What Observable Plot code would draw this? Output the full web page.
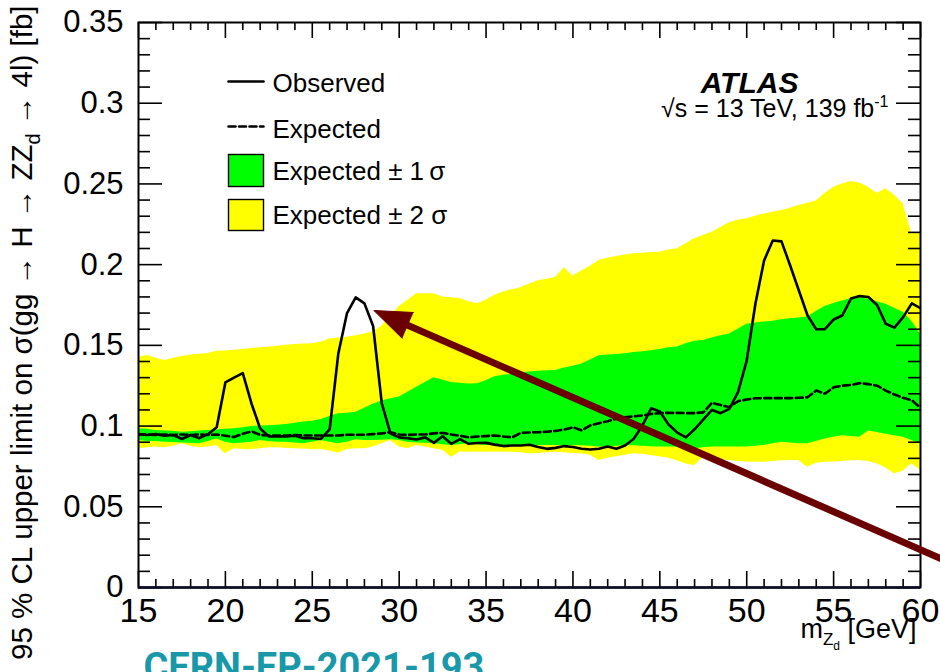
<!DOCTYPE html>
<html>
<head>
<meta charset="utf-8">
<script src="https://cdn.jsdelivr.net/npm/d3@7"></script>
<script src="https://cdn.jsdelivr.net/npm/@observablehq/plot@0.6"></script>
<style>
  html, body { margin: 0; padding: 0; background: #fff; }
  #chart { width: 940px; height: 672px; overflow: hidden; }
</style>
</head>
<body>
<div id="chart"></div>
<script>
// Dark-photon mass grid (GeV)
const mass = [
  15, 15.5, 16, 16.5, 17, 17.5, 18, 18.5, 19, 19.5,
  20, 20.5, 21, 21.5, 22, 22.5, 23, 23.5, 24, 24.5,
  25, 25.5, 26, 26.5, 27, 27.5, 28, 28.5, 29, 29.5,
  30, 30.5, 31, 31.5, 32, 32.5, 33, 33.5, 34, 34.5,
  35, 35.5, 36, 36.5, 37, 37.5, 38, 38.5, 39, 39.5,
  40, 40.5, 41, 41.5, 42, 42.5, 43, 43.5, 44, 44.5,
  45, 45.5, 46, 46.5, 47, 47.5, 48, 48.5, 49, 49.5,
  50, 50.5, 51, 51.5, 52, 52.5, 53, 53.5, 54, 54.5,
  55, 55.5, 56, 56.5, 57, 57.5, 58, 58.5, 59, 59.5,
  60
];

// Observed 95% CL upper limit (fb)
const observed = [
  0.095, 0.0945, 0.095, 0.094, 0.0945, 0.092, 0.0945, 0.0925, 0.095, 0.0993,
  0.127, 0.130, 0.1328, 0.114, 0.0985, 0.0935, 0.0935, 0.0935, 0.094, 0.0925,
  0.0925, 0.092, 0.098, 0.145, 0.170, 0.1797, 0.176, 0.162, 0.114, 0.0954,
  0.093, 0.0925, 0.0917, 0.093, 0.0896, 0.0937, 0.089, 0.0919, 0.089, 0.0895,
  0.0896, 0.0885, 0.0876, 0.088, 0.088, 0.0884, 0.087, 0.0859, 0.0865, 0.0876,
  0.087, 0.086, 0.0855, 0.086, 0.0874, 0.0859, 0.088, 0.0921, 0.1004, 0.111,
  0.109, 0.101, 0.096, 0.093, 0.098, 0.104, 0.110, 0.108, 0.1107, 0.121,
  0.1406, 0.1758, 0.2026, 0.215, 0.2144, 0.1995, 0.184, 0.1685, 0.160, 0.160,
  0.166, 0.1685, 0.179, 0.1805, 0.180, 0.175, 0.1634, 0.161, 0.1675, 0.176,
  0.173
];

// Median expected limit (fb)
const expected = [
  0.0948, 0.0948, 0.0945, 0.0948, 0.0945, 0.0948, 0.0945, 0.0948, 0.0945, 0.0948,
  0.094, 0.0932, 0.0952, 0.0967, 0.0945, 0.0942, 0.0942, 0.0942, 0.0945, 0.0942,
  0.0942, 0.0942, 0.0942, 0.0942, 0.0946, 0.0946, 0.0946, 0.095, 0.0955, 0.0962,
  0.0948, 0.0945, 0.0948, 0.0948, 0.0955, 0.0958, 0.0948, 0.094, 0.093, 0.0935,
  0.0938, 0.0942, 0.0935, 0.093, 0.0958, 0.096, 0.0962, 0.0965, 0.097, 0.0978,
  0.0993, 0.0973, 0.1004, 0.1018, 0.103, 0.1045, 0.1055, 0.106, 0.1066, 0.1075,
  0.108, 0.1082, 0.1082, 0.108, 0.108, 0.1085, 0.1144, 0.113, 0.1117, 0.1154,
  0.1165, 0.1172, 0.1173, 0.1173, 0.1173, 0.1173, 0.1175, 0.1178, 0.122, 0.120,
  0.124, 0.125, 0.1255, 0.1266, 0.126, 0.125, 0.122, 0.1195, 0.1175, 0.116,
  0.1113
];

// Expected +1 sigma / -1 sigma
const sigma1Up = [
  0.0983, 0.098, 0.0973, 0.097, 0.0968, 0.0962, 0.0965, 0.097, 0.0973, 0.0975,
  0.098, 0.0983, 0.099, 0.0998, 0.100, 0.1002, 0.1005, 0.101, 0.1018, 0.1025,
  0.103, 0.104, 0.106, 0.1076, 0.108, 0.1086, 0.111, 0.1135, 0.1155, 0.117,
  0.118, 0.121, 0.124, 0.127, 0.130, 0.1285, 0.127, 0.1265, 0.126, 0.1262,
  0.128, 0.1305, 0.1315, 0.132, 0.133, 0.1335, 0.134, 0.1342, 0.1345, 0.136,
  0.137, 0.1385, 0.141, 0.1435, 0.144, 0.1444, 0.1448, 0.1455, 0.146, 0.1467,
  0.1475, 0.1485, 0.149, 0.151, 0.1525, 0.153, 0.1545, 0.156, 0.157, 0.160,
  0.163, 0.1638, 0.1644, 0.165, 0.1658, 0.1665, 0.167, 0.1675, 0.171, 0.174,
  0.176, 0.1775, 0.179, 0.1795, 0.1785, 0.177, 0.1755, 0.173, 0.1705, 0.165,
  0.157
];
const sigma1Down = [
  0.091, 0.0905, 0.0905, 0.090, 0.0898, 0.0895, 0.0893, 0.089, 0.0905, 0.092,
  0.090, 0.089, 0.0895, 0.090, 0.091, 0.0905, 0.090, 0.090, 0.0895, 0.089,
  0.090, 0.091, 0.090, 0.089, 0.090, 0.0915, 0.091, 0.091, 0.0912, 0.0915,
  0.091, 0.090, 0.0895, 0.0894, 0.089, 0.0885, 0.088, 0.0885, 0.089, 0.0885,
  0.088, 0.088, 0.088, 0.088, 0.088, 0.088, 0.088, 0.088, 0.088, 0.088,
  0.088, 0.0878, 0.0875, 0.087, 0.0872, 0.0875, 0.088, 0.0878, 0.0875, 0.0872,
  0.087, 0.087, 0.087, 0.0865, 0.086, 0.0865, 0.087, 0.087, 0.087, 0.087,
  0.087, 0.0875, 0.088, 0.089, 0.090, 0.0895, 0.089, 0.089, 0.0905, 0.092,
  0.093, 0.094, 0.0935, 0.093, 0.097, 0.096, 0.095, 0.094, 0.093, 0.091,
  0.089
];

// Expected +2 sigma / -2 sigma
const sigma2Up = [
  0.1427, 0.1437, 0.142, 0.1406, 0.142, 0.1431, 0.144, 0.1445, 0.145, 0.1464,
  0.1465, 0.147, 0.1475, 0.148, 0.1485, 0.1489, 0.1495, 0.150, 0.1506, 0.1508,
  0.151, 0.152, 0.154, 0.1545, 0.155, 0.156, 0.157, 0.1585, 0.162, 0.168,
  0.174, 0.178, 0.182, 0.182, 0.182, 0.180, 0.1795, 0.179, 0.177, 0.1758,
  0.178, 0.181, 0.183, 0.1845, 0.1857, 0.188, 0.190, 0.191, 0.192, 0.198,
  0.193, 0.196, 0.199, 0.2026, 0.204, 0.205, 0.206, 0.2067, 0.207, 0.2075,
  0.2077, 0.209, 0.2098, 0.213, 0.216, 0.218, 0.220, 0.223, 0.226, 0.2275,
  0.2284, 0.230, 0.2314, 0.2325, 0.2336, 0.235, 0.2367, 0.238, 0.2395, 0.244,
  0.248, 0.250, 0.2515, 0.2505, 0.248, 0.244, 0.247, 0.243, 0.2377, 0.219,
  0.220
];
const sigma2Down = [
  0.0859, 0.0865, 0.087, 0.0866, 0.0875, 0.089, 0.0875, 0.0866, 0.087, 0.088,
  0.0828, 0.086, 0.0855, 0.0853, 0.086, 0.0866, 0.0866, 0.0862, 0.086, 0.0858,
  0.0853, 0.0855, 0.0845, 0.0832, 0.0855, 0.086, 0.086, 0.087, 0.089, 0.091,
  0.087, 0.086, 0.088, 0.087, 0.086, 0.085, 0.0807, 0.084, 0.0838, 0.084,
  0.0838, 0.084, 0.0838, 0.0838, 0.0835, 0.0828, 0.083, 0.0835, 0.0838, 0.0835,
  0.083, 0.0828, 0.082, 0.0787, 0.080, 0.081, 0.082, 0.0828, 0.0825, 0.0818,
  0.081, 0.080, 0.0785, 0.0765, 0.0756, 0.0807, 0.080, 0.079, 0.0787, 0.078,
  0.0778, 0.0776, 0.0776, 0.078, 0.0785, 0.0787, 0.0787, 0.0745, 0.077, 0.0776,
  0.0778, 0.078, 0.0785, 0.0787, 0.078, 0.0766, 0.074, 0.0704, 0.072, 0.0766,
  0.0725
];

// Axis ticks and labels
const xMajorTicks = [15, 20, 25, 30, 35, 40, 45, 50, 55, 60];
const xTickLabels = ["15", "20", "25", "30", "35", "40", "45", "50", "55", "60"];
const yMajorTicks = [0, 0.05, 0.1, 0.15, 0.2, 0.25, 0.3, 0.35];
const yTickLabels = ["0", "0.05", "0.1", "0.15", "0.2", "0.25", "0.3", "0.35"];
const xMinorTicks = d3.range(15, 61).filter(v => v % 5 !== 0);
const yMinorTicks = d3.range(0, 36).filter(v => v % 5 !== 0).map(v => v / 100);

// Legend entries
const legendLabels = ["Observed", "Expected", "Expected \u00b1 1\u2009\u03c3", "Expected \u00b1 2 \u03c3"];

// Annotation arrow (tail, tip) in axis units
const arrowTail = {m: 62, sigma: 0.014};
const arrowTip = {m: 28.55, sigma: 0.1716};

const rows = mass.map((m, i) => ({
  m, obs: observed[i], exp: expected[i],
  u1: sigma1Up[i], d1: sigma1Down[i], u2: sigma2Up[i], d2: sigma2Down[i]
}));

const W = 940, H = 672;
const M = {top: 22, right: 20, bottom: 85, left: 138};
const innerW = W - M.left - M.right;
const innerH = H - M.top - M.bottom;
const FONT = "'Liberation Sans', Arial, Helvetica, sans-serif";
const ARROW = "#6a0000";

// straight stroke used for legend line samples
const hLine = {draw(ctx, l) { ctx.moveTo(0, 0); ctx.lineTo(0, -l); }};

// one legend label per row, baselines measured from the frame top
const legendRows = [69, 115, 157, 201];
const legendText = legendLabels.map((label, i) =>
  Plot.text([label], {frameAnchor: "top-left", dx: 134, dy: legendRows[i],
    textAnchor: "start", lineAnchor: "bottom", fontSize: 26, fill: "#000"}));

// screen angle of the arrow, for orienting its head
function arrowAngle(x, y) {
  const dx = x(arrowTip.m) - x(arrowTail.m);
  const dy = y(arrowTip.sigma) - y(arrowTail.sigma);
  return Math.atan2(dx, -dy) * 180 / Math.PI;
}
const xs = d3.scaleLinear([15, 60], [M.left, W - M.right]);
const ys = d3.scaleLinear([0, 0.35], [H - M.bottom, M.top]);

const chart = Plot.plot({
  width: W, height: H,
  marginTop: M.top, marginRight: M.right, marginBottom: M.bottom, marginLeft: M.left,
  style: {fontFamily: FONT, background: "#fff", color: "#000"},
  x: {domain: [15, 60], axis: null},
  y: {domain: [0, 0.35], axis: null},
  marks: [
    // bands and curves
    Plot.areaY(rows, {x: "m", y1: "d2", y2: "u2", fill: "#ffff00", clip: true}),
    Plot.areaY(rows, {x: "m", y1: "d1", y2: "u1", fill: "#00ff00", clip: true}),
    Plot.line(rows, {x: "m", y: "exp", stroke: "#000", strokeWidth: 2.6, strokeDasharray: "7,3.5", clip: true}),
    Plot.line(rows, {x: "m", y: "obs", stroke: "#000", strokeWidth: 2.6, clip: true}),

    // inward ticks on all four sides
    Plot.tickX(xMinorTicks, {x: d => d, insetTop: innerH - 8, stroke: "#000", strokeWidth: 1.6}),
    Plot.tickX(xMinorTicks, {x: d => d, insetBottom: innerH - 8, stroke: "#000", strokeWidth: 1.6}),
    Plot.tickX(xMajorTicks, {x: d => d, insetTop: innerH - 16, stroke: "#000", strokeWidth: 1.6}),
    Plot.tickX(xMajorTicks, {x: d => d, insetBottom: innerH - 16, stroke: "#000", strokeWidth: 1.6}),
    Plot.tickY(yMinorTicks, {y: d => d, insetRight: innerW - 12, stroke: "#000", strokeWidth: 1.6}),
    Plot.tickY(yMinorTicks, {y: d => d, insetLeft: innerW - 12, stroke: "#000", strokeWidth: 1.6}),
    Plot.tickY(yMajorTicks, {y: d => d, insetRight: innerW - 24, stroke: "#000", strokeWidth: 1.6}),
    Plot.tickY(yMajorTicks, {y: d => d, insetLeft: innerW - 24, stroke: "#000", strokeWidth: 1.6}),
    Plot.frame({stroke: "#000", strokeWidth: 2}),
    Plot.ruleY([0], {stroke: "#0c0c2a", strokeWidth: 2.6}),

    // tick labels
    Plot.axisX({ticks: xMajorTicks, tickSize: 0, tickPadding: 10, fontSize: 34, label: null,
      tickFormat: d => xTickLabels[xMajorTicks.indexOf(d)]}),
    Plot.axisY({ticks: yMajorTicks, tickSize: 0, tickPadding: 15, fontSize: 31, label: null,
      tickFormat: d => yTickLabels[yMajorTicks.indexOf(d)]}),

    // axis titles
    Plot.text(["95 % CL upper limit on \u03c3(gg \u2192 H \u2192 ZZ_d \u2192 4l) [fb]"], {
      frameAnchor: "top-left", dx: -116, dy: -17, rotate: -90,
      textAnchor: "end", lineAnchor: "middle", fontSize: 29.5, fill: "#000"}),
    Plot.text(["m_Z_d [GeV]"], {
      frameAnchor: "bottom-right", dx: -4, dy: 50,
      textAnchor: "end", lineAnchor: "bottom", fontSize: 27, fill: "#000"}),

    // legend
    Plot.vector([0], {frameAnchor: "top-left", dx: 90, dy: 59, rotate: 90, anchor: "start",
      length: 35, shape: hLine, stroke: "#000", strokeWidth: 2.6}),
    Plot.vector([0], {frameAnchor: "top-left", dx: 90, dy: 104, rotate: 90, anchor: "start",
      length: 35, shape: hLine, stroke: "#000", strokeWidth: 2.6, strokeDasharray: "7,3.5"}),
    Plot.frame({fill: "#00ff00", stroke: "#000", strokeWidth: 1.4,
      insetLeft: 90, insetRight: innerW - 125, insetTop: 132, insetBottom: innerH - 164}),
    Plot.frame({fill: "#ffff00", stroke: "#000", strokeWidth: 1.4,
      insetLeft: 90, insetRight: innerW - 125, insetTop: 177, insetBottom: innerH - 208}),
    ...legendText,

    // experiment labels
    Plot.text(["ATLAS"], {frameAnchor: "top-left", dx: 611, dy: 70, textAnchor: "middle",
      lineAnchor: "bottom", fontSize: 30, fontWeight: "bold", fontStyle: "italic", fill: "#000"}),
    Plot.text(["\u221as = 13 TeV, 139 fb^-1"], {frameAnchor: "top-left", dx: 750, dy: 94,
      textAnchor: "end", lineAnchor: "bottom", fontSize: 25, fill: "#000"}),

    // report number
    Plot.text(["CERN-EP-2021-193"], {frameAnchor: "bottom-left", dx: 5, dy: 92,
      textAnchor: "start", lineAnchor: "bottom", fontSize: 38, fontWeight: "bold",
      fontFamily: "Roboto, 'Open Sans', sans-serif", fill: "#1898a8"}),

    // annotation arrow: shaft plus a filled head
    Plot.arrow([{tail: arrowTail, tip: arrowTip}], {
      x1: d => d.tail.m, y1: d => d.tail.sigma, x2: d => d.tip.m, y2: d => d.tip.sigma,
      stroke: ARROW, strokeWidth: 7, headLength: 0, insetEnd: 24}),
    Plot.vector([arrowTip], {x: "m", y: "sigma", anchor: "end", shape: "spike",
      length: 37, r: 14, rotate: arrowAngle(xs, ys), fill: ARROW, stroke: ARROW, strokeWidth: 1})
  ]
});

document.getElementById("chart").appendChild(chart);

// Sub/superscripts for labels written with "_" / "^" markers
function rich(textEl, parts) {
  const sel = d3.select(textEl);
  sel.text(null);
  let shift = 0;
  for (const [s, off, size] of parts) {
    const t = sel.append("tspan").text(s);
    const dy = off - shift;
    if (dy) t.attr("dy", dy);
    if (size) t.attr("font-size", size);
    shift = off;
  }
}
d3.select(chart).selectAll("text").each(function () {
  const s = this.textContent;
  if (s.startsWith("95 % CL")) {
    rich(this, [
      ["95 % CL upper limit on \u03c3(gg \u2192 H \u2192 ZZ", 0],
      ["d", 8, 20],
      [" \u2192 4l) [fb]", 0, 29.5]
    ]);
  } else if (s === "m_Z_d [GeV]") {
    rich(this, [["m", 0], ["Z", 7, 17], ["d", 12, 12], [" [GeV]", 0, 27]]);
  } else if (s.endsWith("fb^-1")) {
    rich(this, [["\u221as = 13 TeV, 139 fb", 0], ["-1", -10, 16]]);
  }
});
</script>
</body>
</html>
